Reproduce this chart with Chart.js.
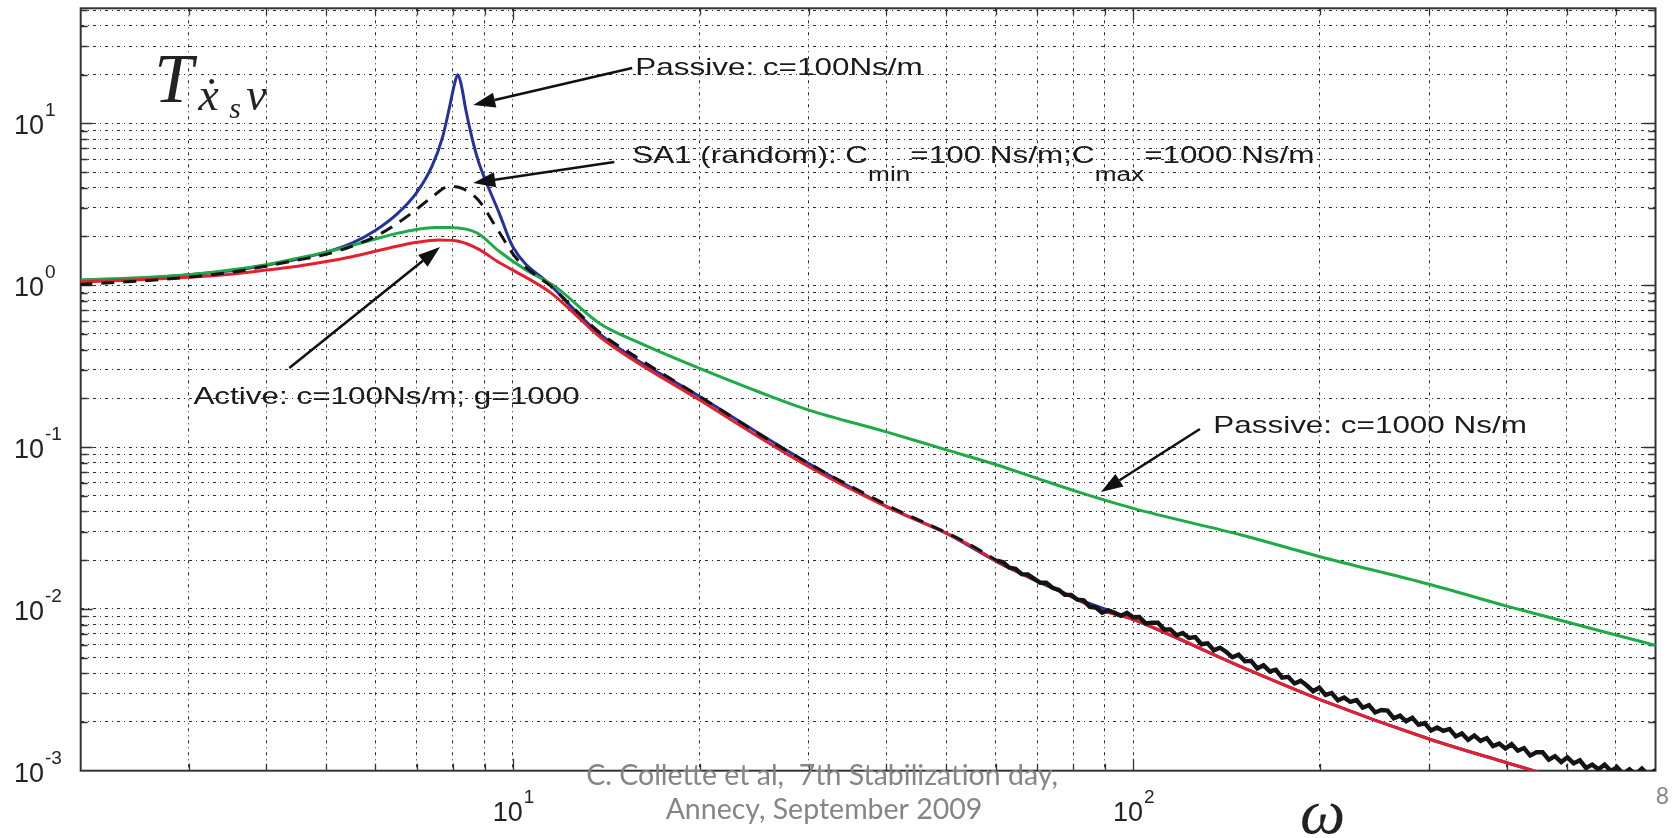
<!DOCTYPE html>
<html>
<head>
<meta charset="utf-8">
<script src="https://cdn.jsdelivr.net/npm/chart.js@4"></script>
<style>
  html, body { margin: 0; padding: 0; background: #fff; }
  #wrap { position: relative; width: 1674px; height: 838px; }
</style>
</head>
<body>
<div id="wrap"><canvas id="chart" width="1674" height="838"></canvas></div>
<script>
// Frequency (w) and transmissibility values

// Passive, c = 100 Ns/m (blue)
var wBlue = [2, 2.5, 3, 3.5, 4, 4.5, 5, 5.5, 6, 6.5, 7, 7.4, 7.7, 7.9, 8.05, 8.15, 8.25, 8.4, 8.6, 8.8, 9.0, 9.5, 10, 11.5, 13.8, 20, 30, 40, 50, 61, 80, 100, 150, 200, 300, 400, 442, 700];
var tBlue = [1.07, 1.10, 1.16, 1.23, 1.33, 1.45, 1.60, 1.82, 2.18, 2.75, 3.75, 5.4, 8.2, 12.5, 17.5, 20, 17.5, 12, 8.0, 5.8, 4.6, 2.8, 1.72, 1.0, 0.50, 0.205, 0.079, 0.043, 0.0293, 0.0191, 0.0118, 0.0086, 0.00435, 0.00275, 0.00157, 0.00112, 0.00100, 0.00058];

// Passive, c = 1000 Ns/m (green)
var wGreen = [2, 2.5, 3, 3.5, 4, 4.5, 5, 5.5, 6, 6.5, 7, 7.5, 7.9, 8.4, 8.8, 9.5, 10.5, 11.7, 13.8, 16, 20, 25, 30, 40, 50, 60, 70, 80, 100, 150, 200, 300, 400, 500, 600, 700];
var tGreen = [1.08, 1.11, 1.16, 1.24, 1.34, 1.47, 1.60, 1.76, 1.93, 2.09, 2.21, 2.27, 2.27, 2.22, 2.08, 1.62, 1.24, 0.98, 0.58, 0.44, 0.306, 0.218, 0.169, 0.124, 0.096, 0.078, 0.064, 0.054, 0.0418, 0.0285, 0.021, 0.0142, 0.0104, 0.0083, 0.0069, 0.0059];

// Active, c = 100 Ns/m, g = 1000 (red)
var wRed = [2, 2.5, 3, 3.5, 4, 4.5, 5, 5.5, 6, 6.5, 7, 7.6, 8.2, 8.8, 9.5, 10, 11.5, 12.5, 13.8, 20, 30, 40, 50, 55, 61, 75, 88, 100, 150, 200, 300, 400, 442, 700];
var tRed = [1.05, 1.08, 1.12, 1.17, 1.24, 1.31, 1.40, 1.50, 1.62, 1.74, 1.84, 1.90, 1.86, 1.67, 1.38, 1.24, 0.90, 0.68, 0.48, 0.195, 0.0755, 0.0428, 0.0293, 0.0243, 0.0191, 0.0133, 0.0099, 0.0086, 0.00435, 0.00275, 0.00157, 0.00112, 0.00100, 0.00058];

// SA1 (random), dashed part
var wSa = [2, 2.5, 3, 3.5, 4, 4.5, 5, 5.5, 6, 6.5, 7, 7.4, 7.9, 8.3, 8.8, 9.45, 10.15, 11.0, 11.5, 12.7, 13.8, 15.8, 20, 28, 40, 54, 60.3];
var tSa = [1.01, 1.06, 1.12, 1.20, 1.31, 1.43, 1.55, 1.74, 2.0, 2.4, 2.95, 3.5, 4.08, 3.95, 3.35, 2.2, 1.45, 1.12, 0.99, 0.686, 0.51, 0.36, 0.205, 0.092, 0.044, 0.0255, 0.0199];

// SA1 (random), noisy high-frequency part
var wSaNoise = [60.3, 61.7, 63.1, 64.6, 66.1, 67.6, 69.2, 70.8, 72.4, 74.1,
  75.9, 77.6, 79.4, 81.3, 83.2, 85.1, 87.1, 89.1, 91.2, 93.3,
  95.5, 97.7, 100, 102.3, 104.7, 107.2, 109.6, 112.2, 114.8, 117.5,
  120.2, 123.0, 125.9, 128.8, 131.8, 134.9, 138.0, 141.3, 144.5, 147.9,
  151.4, 154.9, 158.5, 162.2, 166.0, 169.8, 173.8, 177.8, 182.0, 186.2,
  190.5, 195.0, 199.5, 204.2, 208.9, 213.8, 218.8, 223.9, 229.1, 234.4,
  239.9, 245.5, 251.2, 257.0, 263.0, 269.2, 275.4, 281.8, 288.4, 295.1,
  302.0, 309.0, 316.2, 323.6, 331.1, 338.8, 346.7, 354.8, 363.1, 371.5,
  380.2, 389.0, 398.1, 407.4, 416.9, 426.6, 436.5, 446.7, 457.1, 467.7,
  478.6, 489.8, 501.2, 512.9, 524.8, 537.0, 549.5, 562.3, 575.4, 588.8,
  602.6, 616.6, 631.0, 645.7, 660.7, 676.1, 691.8, 707.9];
var tSaNoise = [0.0199, 0.0194, 0.0180, 0.0177, 0.0164, 0.0163, 0.0154, 0.0145, 0.0145, 0.0135,
  0.0131, 0.0122, 0.0122, 0.0114, 0.0113, 0.0103, 0.0102, 0.00947, 0.00980, 0.00947,
  0.00905, 0.00945, 0.00888, 0.00891, 0.00814, 0.00822, 0.00821, 0.00745, 0.00747, 0.00687,
  0.00709, 0.00661, 0.00669, 0.00604, 0.00612, 0.00555, 0.00576, 0.00541, 0.00502, 0.00521,
  0.00474, 0.00477, 0.00428, 0.00448, 0.00411, 0.00420, 0.00376, 0.00380, 0.00346, 0.00359,
  0.00336, 0.00310, 0.00326, 0.00294, 0.00302, 0.00272, 0.00283, 0.00266, 0.00273, 0.00245,
  0.00254, 0.00229, 0.00237, 0.00235, 0.00211, 0.00219, 0.00202, 0.00212, 0.00192, 0.00197,
  0.00177, 0.00185, 0.00176, 0.00181, 0.00163, 0.00170, 0.00155, 0.00165, 0.00153, 0.00159,
  0.00142, 0.00147, 0.00137, 0.00146, 0.00133, 0.00138, 0.00124, 0.00130, 0.00130, 0.00117,
  0.00123, 0.00113, 0.00121, 0.00111, 0.00116, 0.00104, 0.00109, 0.00102, 0.00109, 0.000998,
  0.00105, 0.000956, 0.00102, 0.000948, 0.00103, 0.000945, 0.000995, 0.000918];

// axes
var xRange = [2.01, 695];
var yRange = [0.001, 51.4];
var xGridTicks = [3, 4, 5, 6, 7, 8, 9, 10, 20, 30, 40, 50, 60, 70, 80, 90, 100, 200, 300, 400, 500, 600];
var yGridTicks = [0.002, 0.003, 0.004, 0.005, 0.006, 0.007, 0.008, 0.009, 0.01, 0.02, 0.03, 0.04, 0.05, 0.06, 0.07, 0.08, 0.09,
  0.1, 0.2, 0.3, 0.4, 0.5, 0.6, 0.7, 0.8, 0.9, 1, 2, 3, 4, 5, 6, 7, 8, 9, 10, 20, 30, 40, 50];
var xLabelExps = ['1', '2'];
var yLabelExps = ['-3', '-2', '-1', '0', '1'];

// annotation texts
var notePassive100 = 'Passive: c=100Ns/m';
var noteSa1 = [['SA1 (random): C', 0], ['min', 1], ['=100 Ns/m;C', 0], ['max', 1], ['=1000 Ns/m', 0]];
var noteActive = 'Active: c=100Ns/m; g=1000';
var notePassive1000 = 'Passive: c=1000 Ns/m';
var footer = ['C. Collette et al,  7th Stabilization day,', 'Annecy, September 2009'];
var pageNo = '8';

function series(xs, ys) {
  return xs.map(function (x, i) { return { x: x, y: ys[i] }; });
}

function isDecade(v) {
  var l = Math.log10(v);
  return Math.abs(l - Math.round(l)) < 1e-9;
}

var SANS = '"Liberation Sans", Arial, sans-serif';
var SERIF = '"Liberation Serif", "Times New Roman", serif';

function stretchText(ctx, str, x, y, font, sx) {
  ctx.save();
  ctx.font = font;
  ctx.translate(x, y);
  ctx.scale(sx, 1);
  ctx.fillText(str, 0, 0);
  var w = ctx.measureText(str).width * sx;
  ctx.restore();
  return w;
}

function arrow(ctx, x1, y1, x2, y2) {
  var a = Math.atan2(y2 - y1, x2 - x1);
  var len = 22, half = 7.5;
  var bx = x2 - len * Math.cos(a), by = y2 - len * Math.sin(a);
  ctx.save();
  ctx.strokeStyle = '#111';
  ctx.fillStyle = '#111';
  ctx.lineWidth = 2.6;
  ctx.beginPath();
  ctx.moveTo(x1, y1);
  ctx.lineTo(bx, by);
  ctx.stroke();
  ctx.beginPath();
  ctx.moveTo(x2, y2);
  ctx.lineTo(bx + half * Math.sin(a), by - half * Math.cos(a));
  ctx.lineTo(bx - half * Math.sin(a), by + half * Math.cos(a));
  ctx.closePath();
  ctx.fill();
  ctx.restore();
}

var decor = {
  id: 'decor',
  beforeDatasetsDraw: function (chart) {
    var ctx = chart.ctx, a = chart.chartArea;
    var xs = chart.scales.x, ys = chart.scales.y;
    ctx.save();
    ctx.strokeStyle = '#333';
    ctx.lineWidth = 1.3;
    ctx.beginPath();
    xGridTicks.forEach(function (v) {
      var p = Math.round(xs.getPixelForValue(v)) + 0.5;
      var l = isDecade(v) ? 12 : 7;
      ctx.moveTo(p, a.bottom); ctx.lineTo(p, a.bottom - l);
      ctx.moveTo(p, a.top); ctx.lineTo(p, a.top + l);
    });
    yGridTicks.forEach(function (v) {
      var p = Math.round(ys.getPixelForValue(v)) + 0.5;
      var l = isDecade(v) ? 12 : 7;
      ctx.moveTo(a.left, p); ctx.lineTo(a.left + l, p);
      ctx.moveTo(a.right, p); ctx.lineTo(a.right - l, p);
    });
    ctx.stroke();
    ctx.lineWidth = 2;
    ctx.strokeRect(a.left, a.top, a.right - a.left, a.bottom - a.top);
    ctx.restore();
  },
  afterDraw: function (chart) {
    var ctx = chart.ctx, a = chart.chartArea;
    var xs = chart.scales.x, ys = chart.scales.y;
    function at(xv, yv) { return [xs.getPixelForValue(xv), ys.getPixelForValue(yv)]; }

    ctx.save();
    ctx.fillStyle = '#222';
    ctx.textBaseline = 'alphabetic';
    ctx.textAlign = 'left';

    // tick labels 10^n
    var big = '27px ' + SANS, small = '19px ' + SANS;
    xLabelExps.forEach(function (e) {
      var px = xs.getPixelForValue(Math.pow(10, +e));
      ctx.font = big; var w1 = ctx.measureText('10').width;
      ctx.font = small; var w2 = ctx.measureText(e).width;
      var x0 = px - (w1 + w2) / 2;
      ctx.font = big; ctx.fillText('10', x0, a.bottom + 50);
      ctx.font = small; ctx.fillText(e, x0 + w1 + 1, a.bottom + 32);
    });
    yLabelExps.forEach(function (e) {
      var py = ys.getPixelForValue(Math.pow(10, +e));
      ctx.font = big; ctx.fillText('10', 14, py + 11);
      var w1 = ctx.measureText('10').width;
      ctx.font = small; ctx.fillText(e, 14 + w1 + 1, py - 7);
    });

    // axis title
    ctx.font = 'italic 64px ' + SERIF;
    ctx.textAlign = 'center';
    ctx.fillText('\u03c9', xs.getPixelForValue(202), a.bottom + 62);
    ctx.textAlign = 'left';

    // T_{x_s v} label
    var t = at(2.64, 13.5);
    ctx.font = 'italic 70px ' + SERIF;
    ctx.fillText('T', t[0], t[1]);
    ctx.font = 'italic 46px ' + SERIF;
    ctx.fillText('\u1e8b', t[0] + 44, t[1] + 8);
    ctx.font = 'italic 30px ' + SERIF;
    ctx.fillText('s', t[0] + 75, t[1] + 16);
    ctx.font = 'italic 46px ' + SERIF;
    ctx.fillText('v', t[0] + 92, t[1] + 8);

    // annotations
    var nf = '24px ' + SANS, sf = '20px ' + SANS, sx = 1.31;
    ctx.fillStyle = '#1a1a1a';
    var p = at(15.75, 19.9);
    stretchText(ctx, notePassive100, p[0], p[1], nf, sx);
    p = at(15.57, 5.68);
    var cx = p[0];
    noteSa1.forEach(function (seg) {
      cx += stretchText(ctx, seg[0], cx, p[1] + (seg[1] ? 18 : 0), seg[1] ? sf : nf, sx);
    });
    p = at(3.054, 0.1844);
    stretchText(ctx, noteActive, p[0], p[1], nf, sx);
    p = at(134.6, 0.122);
    stretchText(ctx, notePassive1000, p[0], p[1], nf, sx);

    var q0 = at(15.57, 21.96), q1 = at(8.63, 12.97);
    arrow(ctx, q0[0], q0[1], q1[0], q1[1]);
    q0 = at(14.57, 5.77); q1 = at(8.63, 4.28);
    arrow(ctx, q0[0], q0[1], q1[0], q1[1]);
    q0 = at(4.36, 0.3077); q1 = at(7.63, 1.721);
    arrow(ctx, q0[0], q0[1], q1[0], q1[1]);
    q0 = at(128.1, 0.1292); q1 = at(88.7, 0.0527);
    arrow(ctx, q0[0], q0[1], q1[0], q1[1]);

    // slide footer
    ctx.fillStyle = '#858585';
    ctx.textAlign = 'center';
    ctx.font = '28.5px Lato, "Open Sans", sans-serif';
    ctx.fillText(footer[0], 822, 785);
    ctx.fillText(footer[1], 824, 819);
    ctx.textAlign = 'right';
    ctx.font = '23px Lato, "Open Sans", sans-serif';
    ctx.fillText(pageNo, 1669, 804);
    ctx.restore();
  }
};

var lineBase = { pointRadius: 0, borderWidth: 3, fill: false, cubicInterpolationMode: 'monotone' };
var gridDash = [3, 4, 1, 4];

new Chart(document.getElementById('chart'), {
  type: 'line',
  data: {
    datasets: [
      Object.assign({}, lineBase, { label: 'SA1 (random)', data: series(wSaNoise, tSaNoise), borderColor: '#141414', borderWidth: 4.4, borderJoinStyle: 'miter', cubicInterpolationMode: 'default', tension: 0 }),
      Object.assign({}, lineBase, { label: 'SA1 (random) dashed', data: series(wSa, tSa), borderColor: '#141414', borderDash: [13, 9] }),
      Object.assign({}, lineBase, { label: 'Active: c=100Ns/m; g=1000', data: series(wRed, tRed), borderColor: '#e5202e' }),
      Object.assign({}, lineBase, { label: 'Passive: c=1000 Ns/m', data: series(wGreen, tGreen), borderColor: '#1faa48' }),
      Object.assign({}, lineBase, { label: 'Passive: c=100Ns/m', data: series(wBlue, tBlue), borderColor: '#26329c' })
    ]
  },
  options: {
    responsive: false,
    animation: false,
    devicePixelRatio: 1,
    layout: { padding: { left: 80.7, right: 18.5, top: 8.3, bottom: 67.3 } },
    plugins: { legend: { display: false }, tooltip: { enabled: false } },
    scales: {
      x: {
        type: 'logarithmic',
        min: xRange[0],
        max: xRange[1],
        afterBuildTicks: function (s) { s.ticks = xGridTicks.map(function (v) { return { value: v }; }); },
        afterFit: function (s) { s.height = 0; },
        ticks: { display: false },
        grid: { color: '#2a2a2a', lineWidth: 1, drawTicks: false },
        border: { display: false, dash: gridDash }
      },
      y: {
        type: 'logarithmic',
        min: yRange[0],
        max: yRange[1],
        afterBuildTicks: function (s) { s.ticks = yGridTicks.map(function (v) { return { value: v }; }); },
        afterFit: function (s) { s.width = 0; },
        ticks: { display: false },
        grid: { color: '#2a2a2a', lineWidth: 1, drawTicks: false },
        border: { display: false, dash: gridDash }
      }
    }
  },
  plugins: [decor]
});
</script>
</body>
</html>
